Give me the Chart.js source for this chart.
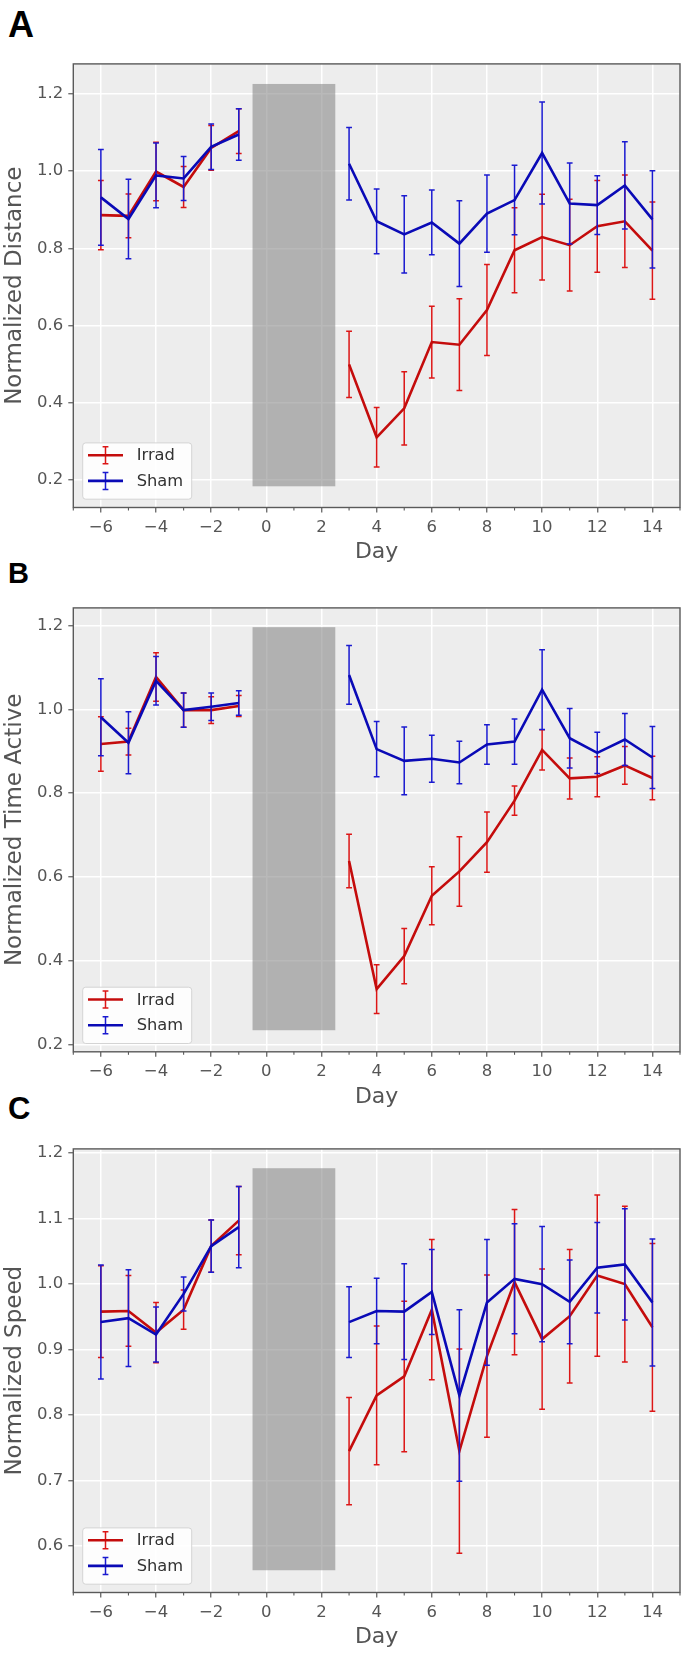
<!DOCTYPE html>
<html><head><meta charset="utf-8">
<script src="https://cdn.jsdelivr.net/npm/chart.js@4.4.0/dist/chart.umd.min.js"></script>
<style>
html,body{margin:0;padding:0;background:#fff;overflow:hidden;width:685px;height:1654px;}
canvas.panel{position:absolute;left:0;}
.letter{position:absolute;left:8px;font-family:'Liberation Sans',Arial,sans-serif;font-weight:bold;color:#000;line-height:1;}
</style></head><body>
<div class="letter" style="top:7px;font-size:36px">A</div>
<div class="letter" style="top:559px;font-size:29px">B</div>
<div class="letter" style="top:1093px;font-size:31px">C</div>
<canvas id="cA" class="panel" width="685" height="529" style="top:49px"></canvas>
<canvas id="cB" class="panel" width="685" height="529" style="top:593px"></canvas>
<canvas id="cC" class="panel" width="685" height="520" style="top:1134px"></canvas>
<script>
// ---------- data ----------
const days = [-6,-5,-4,-3,-2,-1,3,4,5,6,7,8,9,10,11,12,13,14];
const xMajorTicks = [-6,-4,-2,0,2,4,6,8,10,12,14];
const xMinorTicks = [-7,-5,-3,-1,1,3,5,7,9,11,13,15];
const seriesNames = ['Irrad','Sham'];
const shadeDays = [-0.5, 2.5];

const distanceIrrad    = [0.886,0.884,0.999,0.959,1.060,1.104,0.499,0.310,0.385,0.557,0.550,0.640,0.795,0.829,0.808,0.857,0.870,0.794];
const distanceIrradErr = [0.090,0.057,0.076,0.053,0.058,0.058,0.086,0.077,0.095,0.093,0.119,0.118,0.110,0.111,0.119,0.119,0.120,0.126];
const distanceSham     = [0.932,0.876,0.989,0.981,1.063,1.095,1.019,0.870,0.836,0.867,0.812,0.890,0.925,1.047,0.916,0.912,0.963,0.875];
const distanceShamErr  = [0.124,0.103,0.084,0.057,0.059,0.067,0.094,0.084,0.100,0.084,0.111,0.100,0.090,0.132,0.105,0.076,0.113,0.126];
const distanceTicks = [0.2,0.4,0.6,0.8,1.0,1.2];
const distanceRange = [0.128,1.278];
const distanceShade = [0.183,1.226];

const activeIrrad    = [0.917,0.923,1.077,0.998,0.998,1.008,0.638,0.332,0.411,0.555,0.613,0.683,0.782,0.903,0.835,0.839,0.866,0.836];
const activeIrradErr = [0.065,0.032,0.058,0.041,0.032,0.025,0.064,0.058,0.066,0.069,0.083,0.072,0.035,0.048,0.049,0.048,0.045,0.052];
const activeSham     = [0.981,0.920,1.068,0.998,1.006,1.015,1.082,0.905,0.877,0.882,0.873,0.916,0.923,1.047,0.931,0.896,0.928,0.885];
const activeShamErr  = [0.092,0.074,0.058,0.041,0.033,0.029,0.070,0.066,0.081,0.056,0.051,0.047,0.054,0.095,0.071,0.049,0.062,0.074];
const activeTicks = [0.2,0.4,0.6,0.8,1.0,1.2];
const activeRange = [0.1825,1.242];
const activeShade = [0.234,1.196];

const speedIrrad    = [0.958,0.959,0.926,0.961,1.058,1.097,0.745,0.830,0.859,0.961,0.745,0.890,1.003,0.916,0.951,1.013,1.000,0.934];
const speedIrradErr = [0.070,0.054,0.046,0.030,0.040,0.052,0.082,0.106,0.115,0.107,0.156,0.124,0.111,0.107,0.102,0.123,0.119,0.128];
const speedSham     = [0.942,0.948,0.923,0.985,1.058,1.087,0.942,0.959,0.958,0.988,0.830,0.972,1.008,1.000,0.973,1.025,1.030,0.972];
const speedShamErr  = [0.087,0.074,0.042,0.026,0.040,0.062,0.054,0.050,0.073,0.065,0.131,0.096,0.084,0.088,0.064,0.069,0.085,0.097];
const speedTicks = [0.6,0.7,0.8,0.9,1.0,1.1,1.2];
const speedRange = [0.529,1.2065];
const speedShade = [0.563,1.177];

// ---------- styling / layout ----------
const FONT = "'DejaVu Sans', sans-serif";
const PLOT_LEFT = 73.3, PLOT_RIGHT = 680, PLOT_H = 448.5;
const LINE_COLORS = ['#c40c0c', '#0a0ab6'];
const ERR_COLORS  = ['#dc1616', '#1a1ad0'];
const FRAME = '#5a5a5a';
const TEXT = '#555555';
const CAP = 2.9;

function fmtX(v){ return v < 0 ? '\u2212' + Math.abs(v) : String(v); }

function makePanel(id, padTop, yLabel, irr, irrErr, sham, shamErr, yTicks, yRange, shadeY) {
  const canvas = document.getElementById(id);
  const H = canvas.height;
  const xH = H - padTop - PLOT_H;
  const toPts = arr => days.map((d, i) => ({x: d, y: arr[i]}));
  const datasets = [
    {label: seriesNames[0], data: toPts(irr), errors: irrErr, order: 1},
    {label: seriesNames[1], data: toPts(sham), errors: shamErr, order: 0}
  ].map((ds, k) => Object.assign(ds, {
    borderColor: LINE_COLORS[k], errColor: ERR_COLORS[k], borderWidth: 2.6,
    pointRadius: 0, pointHoverRadius: 0, fill: false, tension: 0,
    segment: { borderColor: c => (c.p1.parsed.x - c.p0.parsed.x > 1.5 ? 'rgba(0,0,0,0)' : undefined) }
  }));

  const decor = {
    id: 'decor_' + id,
    beforeDraw(chart) {
      const {ctx, chartArea: a} = chart;
      ctx.save(); ctx.fillStyle = '#ededed';
      ctx.fillRect(a.left, a.top, a.right - a.left, a.bottom - a.top); ctx.restore();
    },
    beforeDatasetsDraw(chart) {
      const {ctx, scales: {x, y}} = chart;
      const x0 = x.getPixelForValue(shadeDays[0]), x1 = x.getPixelForValue(shadeDays[1]);
      const y0 = y.getPixelForValue(shadeY[1]), y1 = y.getPixelForValue(shadeY[0]);
      ctx.save(); ctx.fillStyle = 'rgba(128,128,128,0.55)';
      ctx.fillRect(x0, y0, x1 - x0, y1 - y0); ctx.restore();
    },
    beforeDatasetDraw(chart, args) {
      const ds = chart.data.datasets[args.index];
      const {ctx, scales: {x, y}} = chart;
      ctx.save(); ctx.strokeStyle = ds.errColor; ctx.lineWidth = 1.5;
      ds.data.forEach((p, i) => {
        const px = x.getPixelForValue(p.x);
        const lo = y.getPixelForValue(p.y - ds.errors[i]);
        const hi = y.getPixelForValue(p.y + ds.errors[i]);
        ctx.beginPath();
        ctx.moveTo(px, lo); ctx.lineTo(px, hi);
        ctx.moveTo(px - CAP, lo); ctx.lineTo(px + CAP, lo);
        ctx.moveTo(px - CAP, hi); ctx.lineTo(px + CAP, hi);
        ctx.stroke();
      });
      ctx.restore();
    },
    afterDraw(chart) {
      const {ctx, chartArea: a, scales: {x}} = chart;
      ctx.save();
      // minor ticks
      ctx.strokeStyle = FRAME; ctx.lineWidth = 1.1;
      xMinorTicks.forEach(v => {
        const px = x.getPixelForValue(v);
        ctx.beginPath(); ctx.moveTo(px, a.bottom); ctx.lineTo(px, a.bottom + 3); ctx.stroke();
      });
      // frame
      ctx.strokeStyle = FRAME; ctx.lineWidth = 1.4;
      ctx.strokeRect(a.left, a.top, a.right - a.left, a.bottom - a.top);
      // legend
      const bx = a.left + 9.4, bw = 109, bh = 56.3, by = a.bottom - 8.3 - bh;
      ctx.beginPath();
      if (ctx.roundRect) ctx.roundRect(bx, by, bw, bh, 3); else ctx.rect(bx, by, bw, bh);
      ctx.fillStyle = 'rgba(255,255,255,0.85)'; ctx.fill();
      ctx.strokeStyle = '#d4d4d4'; ctx.lineWidth = 1; ctx.stroke();
      chart.data.datasets.forEach((ds, k) => {
        const cy = by + 12.3 + k * 25.7;
        const lx0 = bx + 5.3, lx1 = bx + 40.3, cx = (lx0 + lx1) / 2;
        ctx.strokeStyle = ds.errColor; ctx.lineWidth = 1.5;
        ctx.beginPath();
        ctx.moveTo(cx, cy - 8.5); ctx.lineTo(cx, cy + 8.5);
        ctx.moveTo(cx - CAP, cy - 8.5); ctx.lineTo(cx + CAP, cy - 8.5);
        ctx.moveTo(cx - CAP, cy + 8.5); ctx.lineTo(cx + CAP, cy + 8.5);
        ctx.stroke();
        ctx.strokeStyle = ds.borderColor; ctx.lineWidth = 2.6;
        ctx.beginPath(); ctx.moveTo(lx0, cy); ctx.lineTo(lx1, cy); ctx.stroke();
        ctx.fillStyle = '#333333'; ctx.font = '16.3px ' + FONT;
        ctx.textAlign = 'left'; ctx.textBaseline = 'middle';
        ctx.fillText(ds.label, bx + 54, cy + 1);
      });
      ctx.restore();
    }
  };

  return new Chart(canvas, {
    type: 'line',
    data: {datasets},
    options: {
      responsive: false, animation: false, devicePixelRatio: 1,
      layout: {padding: {left: 0, right: 685 - PLOT_RIGHT, top: padTop, bottom: 0}},
      plugins: {legend: {display: false}, tooltip: {enabled: false}},
      scales: {
        x: {
          type: 'linear', min: -7, max: 15,
          afterBuildTicks: s => { s.ticks = xMajorTicks.map(v => ({value: v})); },
          afterFit: s => { s.height = xH; },
          ticks: {callback: v => fmtX(v), color: TEXT, font: {family: FONT, size: 16.5}, padding: 5, maxRotation: 0, autoSkip: false},
          grid: {color: '#ffffff', lineWidth: 1.5, tickColor: FRAME, tickLength: 5, tickWidth: 1.2},
          border: {display: false},
          title: {display: true, text: 'Day', color: TEXT, font: {family: FONT, size: 22}, padding: {top: 0, bottom: xH - 45 - 13.2}}
        },
        y: {
          type: 'linear', min: yRange[0], max: yRange[1],
          afterBuildTicks: s => { s.ticks = yTicks.map(v => ({value: v})); },
          afterFit: s => { s.width = PLOT_LEFT; },
          ticks: {callback: v => v.toFixed(1), color: TEXT, font: {family: FONT, size: 16.5}, padding: 5, autoSkip: false},
          grid: {color: '#ffffff', lineWidth: 1.5, tickColor: FRAME, tickLength: 5, tickWidth: 1.2},
          border: {display: false},
          title: {display: true, text: yLabel, color: TEXT, font: {family: FONT, size: 23}, padding: {top: 1, bottom: 0}}
        }
      }
    },
    plugins: [decor]
  });
}

makePanel('cA', 10, 'Normalized Distance', distanceIrrad, distanceIrradErr, distanceSham, distanceShamErr, distanceTicks, distanceRange, distanceShade);
makePanel('cB', 10.3, 'Normalized Time Active', activeIrrad, activeIrradErr, activeSham, activeShamErr, activeTicks, activeRange, activeShade);
makePanel('cC', 10, 'Normalized Speed', speedIrrad, speedIrradErr, speedSham, speedShamErr, speedTicks, speedRange, speedShade);
</script>
</body></html>
